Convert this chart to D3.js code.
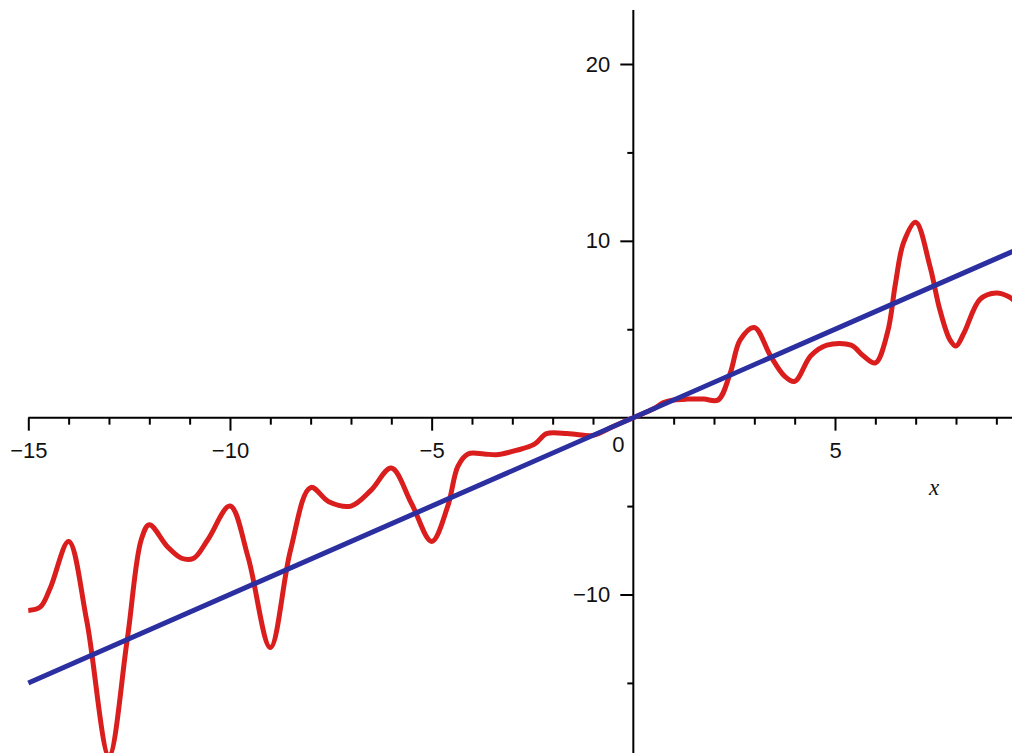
<!DOCTYPE html>
<meta charset="utf-8">
<title>Curve and line</title>
<style>
  body { margin: 0; background: #fff; }
  svg { display: block; }
  text { font-family: "Liberation Sans", Arial, sans-serif; }
</style>
<body>
<script src="https://d3js.org/d3.v7.min.js"></script>
<script>

var width = 1012,
    height = 753;

// red curve
var curveX = [-15, -14.7, -14.45, -14, -13.55, -13, -12.55, -12.2, -12,
              -11.55, -11.2, -10.9, -10.55, -10, -9.55, -9, -8.5, -8, -7.55,
              -7, -6.5, -6, -5.5, -5, -4.6, -4.35, -4.1, -3.7, -3.4,
              -2.9, -2.45, -2.15, -1.65, -1.4, -1, -0.5, 0, 0.5, 0.75,
              1, 1.35, 1.75, 2.1, 2.4, 2.65, 3, 3.4, 3.75, 4,
              4.4, 4.8, 5.4, 5.7, 6, 6.3, 6.5, 6.7, 7, 7.35,
              7.6, 7.85, 8, 8.2, 8.6, 9, 9.3, 9.5];
var curveY = [-10.9, -10.7, -9.6, -7.0, -11.5, -19.1, -12.6, -6.9, -6.05,
              -7.3, -7.95, -7.95, -6.9, -5.0, -7.9, -13.0, -7.5, -3.95, -4.75,
              -5.0, -4.1, -2.85, -4.85, -7.0, -5.0, -2.75, -2.05, -2.05, -2.1,
              -1.85, -1.5, -0.9, -0.9, -0.95, -1.0, -0.5, 0, 0.5, 0.85,
              1.0, 1.05, 1.05, 1.0, 2.5, 4.4, 5.1, 3.5, 2.35, 2.05,
              3.5, 4.1, 4.1, 3.5, 3.1, 4.8, 7.6, 9.9, 11.05, 8.6,
              6.1, 4.4, 4.05, 4.8, 6.7, 7.05, 6.85, 6.5];

// blue straight line
var lineX = [-15, 10];
var lineY = [-15, 10];

// ticks
var xMajor = [-15, -10, -5, 5];
var xMinor = [-14, -13, -12, -11, -9, -8, -7, -6, -4, -3, -2, -1, 1, 2, 3, 4, 6, 7, 8, 9];
var yMajor = [-10, 10, 20];
var yMinor = [-15, -5, 5, 15];

var x = d3.scaleLinear().domain([-15, 5]).range([28.3, 835]);
var y = d3.scaleLinear().domain([-10, 20]).range([594.5, 64]);

var svg = d3.select("body").append("svg")
    .attr("width", width)
    .attr("height", height);

svg.append("rect")
    .attr("width", width)
    .attr("height", height)
    .attr("fill", "#fff");

// axis lines
svg.append("line")
    .attr("x1", x(-15)).attr("x2", width)
    .attr("y1", y(0)).attr("y2", y(0))
    .attr("stroke", "#000").attr("stroke-width", 2);

svg.append("line")
    .attr("x1", x(0)).attr("x2", x(0))
    .attr("y1", 10).attr("y2", height)
    .attr("stroke", "#000").attr("stroke-width", 2);

var xAxisMinor = svg.append("g")
    .attr("transform", "translate(0," + y(0) + ")")
    .call(d3.axisBottom(x).tickValues(xMinor).tickSize(7).tickFormat(""));

var xAxisMajor = svg.append("g")
    .attr("transform", "translate(0," + y(0) + ")")
    .call(d3.axisBottom(x).tickValues(xMajor).tickSize(13).tickPadding(12)
      .tickFormat(function(d) { return d < 0 ? "\u2212" + Math.abs(d) : d; }));

var yAxisMinor = svg.append("g")
    .attr("transform", "translate(" + x(0) + ",0)")
    .call(d3.axisLeft(y).tickValues(yMinor).tickSize(6).tickFormat(""));

var yAxisMajor = svg.append("g")
    .attr("transform", "translate(" + x(0) + ",0)")
    .call(d3.axisLeft(y).tickValues(yMajor).tickSize(13).tickPadding(10)
      .tickFormat(function(d) { return d < 0 ? "\u2212" + Math.abs(d) : d; }));

[xAxisMinor, xAxisMajor, yAxisMinor, yAxisMajor].forEach(function(g) {
  g.select(".domain").remove();
  g.selectAll(".tick line").attr("stroke", "#000").attr("stroke-width", 2);
  g.selectAll(".tick text")
    .attr("fill", "#111")
    .style("font-size", "22px")
    .style("font-family", "'Liberation Sans', Arial, sans-serif");
});

// origin label sits left of the vertical axis
svg.append("text")
    .attr("x", x(0) - 15)
    .attr("y", y(0) + 27)
    .attr("dy", "0.35em")
    .attr("text-anchor", "middle")
    .attr("fill", "#111")
    .style("font-size", "22px")
    .text("0");

svg.append("text")
    .attr("x", 934)
    .attr("y", 487)
    .attr("dy", "0.35em")
    .attr("text-anchor", "middle")
    .attr("fill", "#111")
    .style("font-family", "'Liberation Serif', 'Times New Roman', serif")
    .style("font-style", "italic")
    .style("font-size", "23px")
    .text("x");

var line = d3.line()
    .x(function(d) { return x(d[0]); })
    .y(function(d) { return y(d[1]); });

svg.append("path")
    .datum(d3.zip(curveX, curveY))
    .attr("fill", "none")
    .attr("stroke", "#da1d1d")
    .attr("stroke-width", 5)
    .attr("stroke-linejoin", "round")
    .attr("d", line.curve(d3.curveCatmullRom.alpha(0.5)));

svg.append("path")
    .datum(d3.zip(lineX, lineY))
    .attr("fill", "none")
    .attr("stroke", "#2b2fa0")
    .attr("stroke-width", 5)
    .attr("d", line.curve(d3.curveLinear));

</script>
